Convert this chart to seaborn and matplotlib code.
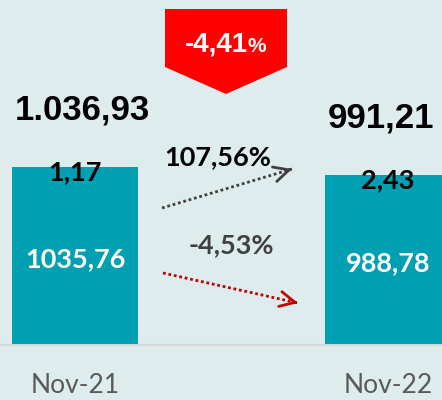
import numpy as np
import pandas as pd
import matplotlib
matplotlib.use("Agg")
import matplotlib.pyplot as plt
import seaborn as sns
from matplotlib.patches import Polygon

# 数据
periods = ["Nov-21", "Nov-22"]
base_values = [1035.76, 988.78]
top_values = [1.17, 2.43]
total_labels = ["1.036,93", "991,21"]
base_labels = ["1035,76", "988,78"]
top_labels = ["1,17", "2,43"]
change_total = "-4,41"
change_top = "107,56%"
change_base = "-4,53%"

W, H = 442, 400
BG = "#dfecee"
TEAL = "#00a0b2"
TOP_C = "#dccb96"

sns.set_theme(style="white")
plt.rcParams["font.family"] = ["Lato", "DejaVu Sans"]
NARROW = ["Liberation Sans", "DejaVu Sans"]

df = pd.DataFrame({"period": periods, "base": base_values, "top": top_values})
df["total"] = df["base"] + df["top"]

fig = plt.figure(figsize=(W / 100, H / 100), dpi=100, facecolor=BG)
ax = fig.add_axes([0, 55 / H, 1, 1 - 55 / H])
ax.set_facecolor(BG)

# 叠加柱状图：先画总量，再画底部
sns.barplot(data=df, x="period", y="total", color=TOP_C, width=0.4,
            saturation=1, ax=ax, linewidth=0)
sns.barplot(data=df, x="period", y="base", color=TEAL, width=0.4,
            saturation=1, ax=ax, linewidth=0)

ax.set_xlim(-0.2396, 1.1725)
ax.set_ylim(0, 2010)
ax.set_xlabel("")
ax.set_ylabel("")
ax.set_yticks([])
for s in ["top", "left", "right"]:
    ax.spines[s].set_visible(False)
ax.spines["bottom"].set_color("#d4d8d9")
ax.spines["bottom"].set_linewidth(1.5)
ax.tick_params(axis="x", length=0, pad=20, labelsize=19, labelcolor="#595959")

# 数值标签
for i in range(len(periods)):
    tot = df["total"][i]
    ax.text(i + 0.022 * (1 - 2 * i), tot + 330, total_labels[i], ha="center", va="center",
            fontsize=25, fontweight="bold", family=NARROW, color="black")
    ax.text(i, tot - 30, top_labels[i], ha="center", va="center",
            fontsize=19.5, fontweight="bold", color="black")
    ax.text(i, df["base"][i] * 0.5 - 20, base_labels[i], ha="center", va="center",
            fontsize=19.5, fontweight="bold", color="white")


def fx(px):
    return px / W


def fy(py):
    return 1 - py / H


# 红色箭头横幅
banner = Polygon([(fx(165), fy(9)), (fx(287), fy(9)), (fx(287), fy(67)),
                  (fx(226), fy(94)), (fx(165), fy(67))],
                 closed=True, transform=fig.transFigure, facecolor="#ff0000",
                 edgecolor="none")
fig.patches.append(banner)
fig.text(fx(248), fy(45), change_total, ha="right", va="center", color="white",
         fontsize=20, fontweight="bold", family=NARROW)
fig.text(fx(248), fy(47), "%", ha="left", va="center", color="white",
         fontsize=15, fontweight="bold", family=NARROW)

# 变化箭头
fig.text(fx(218), fy(157), change_top, ha="center", va="center", color="black",
         fontsize=19.5, fontweight="bold")
fig.text(fx(231), fy(245), change_base, ha="center", va="center", color="#404040",
         fontsize=19.5, fontweight="bold")

for (x0, y0, x1, y1, c) in [(162, 208, 292, 169, "#404040"),
                            (163, 273, 298, 303, "#c00000")]:
    fig.add_artist(plt.Line2D([fx(x0), fx(x1)], [fy(y0), fy(y1)],
                              transform=fig.transFigure, color=c, lw=2,
                              linestyle=(0, (1, 1))))
    dx, dy = x1 - x0, y1 - y0
    n = np.hypot(dx, dy)
    ax.annotate("", xy=(fx(x1), fy(y1)), xycoords="figure fraction",
                xytext=(fx(x1 - dx / n * 3), fy(y1 - dy / n * 3)),
                textcoords="figure fraction",
                arrowprops=dict(arrowstyle="->,head_length=0.9,head_width=0.45",
                                color=c, lw=2, shrinkA=0, shrinkB=0))

fig.savefig("out.png", dpi=100, facecolor=BG)
